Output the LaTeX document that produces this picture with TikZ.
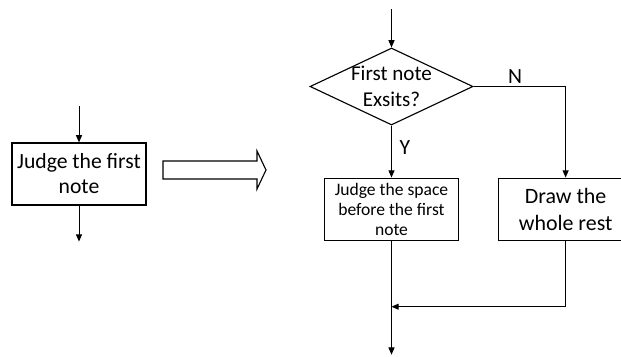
\documentclass[tikz,border=0pt]{standalone}
\usepackage{fontspec}
\setmainfont{Carlito}
\usetikzlibrary{arrows.meta,positioning,shapes.geometric}

\begin{document}
\begin{tikzpicture}[
  x=0.25mm, y=-0.25mm,
  >={Triangle[length=1.8mm,width=1.5mm]},
  flow/.style={line width=0.7pt},
  box/.style={rectangle, draw, line width=0.8pt, align=center,
              minimum width=33.5mm, minimum height=15.5mm, inner sep=1pt},
  decision/.style={diamond, draw, line width=0.8pt, inner sep=0pt,
                   minimum width=40.75mm, minimum height=19.25mm},
  big/.style={font=\fontsize{15.4}{17.7}\selectfont},
  small/.style={font=\fontsize{12.5}{14.2}\selectfont},
  large/.style={font=\fontsize{15.6}{19}\selectfont},
  lbl/.style={big, inner sep=1.5pt}
]
  \useasboundingbox (0,0) rectangle (621,356);

  % single step
  \node[box, big] (judge) at (79,174) {Judge the first\\note};
  \coordinate[above=9mm of judge] (judgein);
  \coordinate[below=9mm of judge] (judgeout);
  \draw[flow,->] (judgein) -- (judge);
  \draw[flow,->] (judge) -- (judgeout);

  % expands to
  \draw[line width=0.8pt] (163,161) -- (257,161) -- (257,151) -- (266,170)
    -- (257,189) -- (257,179) -- (163,179) -- cycle;

  % detailed flow
  \node[decision] (exists) at (391.5,86.5) {};
  \node[big, align=center, font=\fontsize{15}{18.4}\selectfont] (existstext) at (exists) {First note\\Exsits?};
  \node[box, small, below=13mm of exists] (space) {Judge the space\\before the first\\note};
  \node[box, large, right=9.75mm of space] (rest) {Draw the\\whole rest};

  \coordinate[above=9.5mm of exists] (top);
  \coordinate[below=16.5mm of space] (join);
  \coordinate[below=28.5mm of space] (bottom);

  \draw[flow,->] (top) -- (exists);
  \draw[flow,->] (exists) -- node[lbl, pos=0.42, right, xshift=1.4mm] {Y} (space);
  \draw[flow,->] (exists.east) -| node[lbl, pos=0.225, above] {N} (rest.north);
  \draw[flow,->] (rest.south) |- (join);
  \draw[flow,->] (space) -- (bottom);
\end{tikzpicture}
\end{document}
